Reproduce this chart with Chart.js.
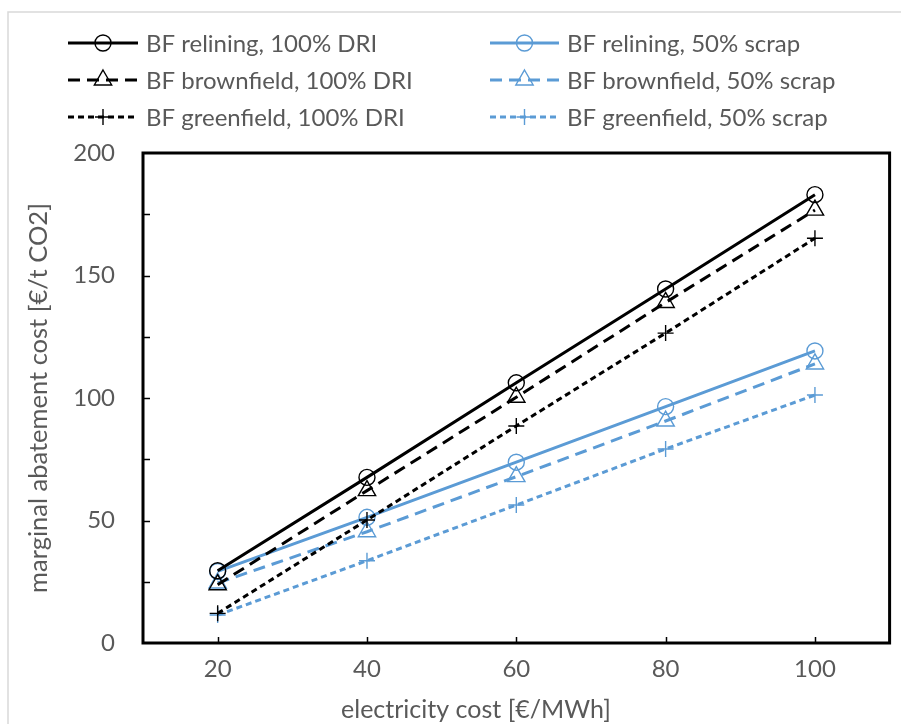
<!DOCTYPE html>
<html>
<head>
<meta charset="utf-8">
<script src="https://cdn.jsdelivr.net/npm/chart.js@4"></script>
<style>
  html, body { margin: 0; padding: 0; background: #fff; }
  #wrap { width: 901px; height: 724px; }
</style>
</head>
<body>
<div id="wrap"><canvas id="chart" width="901" height="724"></canvas></div>
<script>
// colours
const BLACK = '#000000';
const BLUE = '#5b9bd5';
const TEXT = '#595959';
const FONT = "Lato, 'Open Sans', sans-serif";

// data
const electricityCost = ['20', '40', '60', '80', '100'];
const relining100DRI    = [29.5, 67.6, 106.2, 144.5, 183.0];
const brownfield100DRI  = [23.8, 62.2, 100.3, 139.0, 176.7];
const greenfield100DRI  = [12.1, 50.2, 88.6, 126.5, 165.2];
const relining50Scrap   = [29.2, 51.3, 73.8, 96.5, 119.2];
const brownfield50Scrap = [24.5, 45.4, 67.9, 90.6, 113.9];
const greenfield50Scrap = [11.4, 33.6, 56.3, 79.2, 101.2];
const yTicks = [0, 50, 100, 150, 200];

const series = [
  { label: 'BF relining, 100% DRI',     data: relining100DRI,    color: BLACK, dash: [],      point: 'circle' },
  { label: 'BF brownfield, 100% DRI',   data: brownfield100DRI,  color: BLACK, dash: [12, 7], point: 'triangle' },
  { label: 'BF greenfield, 100% DRI',   data: greenfield100DRI,  color: BLACK, dash: [6, 4],  point: 'cross' },
  { label: 'BF relining, 50% scrap',    data: relining50Scrap,   color: BLUE,  dash: [],      point: 'circle' },
  { label: 'BF brownfield, 50% scrap',  data: brownfield50Scrap, color: BLUE,  dash: [12, 7], point: 'triangle' },
  { label: 'BF greenfield, 50% scrap',  data: greenfield50Scrap, color: BLUE,  dash: [6, 4],  point: 'cross' },
];

// marker size per style
const markerRadius = (style) => style === 'triangle' ? 10 : 8;

// ─── frame, inward ticks, legend and x title ───
const decor = {
  id: 'decor',
  beforeDraw(chart) {
    const ctx = chart.ctx;
    ctx.save();
    ctx.strokeStyle = '#d9d9d9';
    ctx.lineWidth = 1.5;
    ctx.strokeRect(8, 12, 1000, 1000);
    ctx.restore();
  },
  afterDraw(chart) {
    const ctx = chart.ctx;
    const a = chart.chartArea;
    const x = chart.scales.x, y = chart.scales.y;
    ctx.save();
    ctx.strokeStyle = BLACK;
    ctx.lineWidth = 1.5;
    // y minor/major ticks pointing in
    for (let v = 25; v < 200; v += 25) {
      const py = Math.round(y.getPixelForValue(v)) + 0.5;
      ctx.beginPath(); ctx.moveTo(a.left, py); ctx.lineTo(a.left + 7, py); ctx.stroke();
    }
    electricityCost.forEach((c, i) => {
      const px = Math.round(x.getPixelForValue(i)) + 0.5;
      ctx.beginPath(); ctx.moveTo(px, a.bottom); ctx.lineTo(px, a.bottom - 6); ctx.stroke();
    });
    ctx.lineWidth = 3;
    ctx.strokeRect(a.left, a.top, a.right - a.left, a.bottom - a.top);

    // legend, two columns
    const cols = [{ x0: 68, x1: 138, tx: 146 }, { x0: 490, x1: 559, tx: 567 }];
    const rows = [43, 80, 117];
    series.forEach((s, i) => {
      const c = cols[Math.floor(i / 3)], ry = rows[i % 3];
      ctx.strokeStyle = s.color;
      ctx.lineWidth = 3;
      ctx.setLineDash(s.dash);
      ctx.beginPath(); ctx.moveTo(c.x0, ry); ctx.lineTo(c.x1, ry); ctx.stroke();
      ctx.setLineDash([]);
      ctx.fillStyle = 'rgba(0,0,0,0)';
      ctx.lineWidth = 1.4;
      Chart.helpers.drawPoint(ctx, { pointStyle: s.point, radius: markerRadius(s.point), rotation: 0, borderWidth: 1.4 },
        (c.x0 + c.x1) / 2, ry);
      ctx.fillStyle = TEXT;
      ctx.font = '24px ' + FONT;
      ctx.textBaseline = 'middle';
      ctx.textAlign = 'left';
      ctx.fillText(s.label, c.tx, ry + 1);
    });

    // x axis title
    ctx.fillStyle = TEXT;
    ctx.font = '25px ' + FONT;
    ctx.textAlign = 'center';
    ctx.textBaseline = 'middle';
    ctx.fillText('electricity cost [€/MWh]', 476, 710);
    ctx.restore();
  }
};

new Chart(document.getElementById('chart'), {
  type: 'line',
  data: {
    labels: electricityCost,
    datasets: series.map((s) => ({
      label: s.label,
      data: s.data,
      borderColor: s.color,
      borderWidth: 3,
      borderDash: s.dash,
      pointStyle: s.point,
      pointRadius: markerRadius(s.point),
      pointBorderWidth: 1.4,
      pointBorderColor: s.color,
      pointBackgroundColor: 'rgba(0,0,0,0)',
      fill: false,
      tension: 0,
    }))
  },
  options: {
    responsive: false,
    animation: false,
    devicePixelRatio: 1,
    layout: { padding: { top: 153, left: 8, right: 11, bottom: 0 } },
    plugins: {
      legend: { display: false },
      tooltip: { enabled: false },
    },
    scales: {
      x: {
        offset: true,
        grid: { display: false, drawTicks: false },
        border: { display: false },
        ticks: { color: TEXT, font: { family: FONT, size: 24 }, padding: 12 },
        afterFit: (s) => { s.height = 81; },
      },
      y: {
        min: 0,
        max: 200,
        grid: { display: false, drawTicks: false },
        border: { display: false },
        ticks: {
          stepSize: 25,
          color: TEXT,
          font: { family: FONT, size: 24 },
          padding: 28,
          callback: (v) => yTicks.includes(v) ? String(v) : '',
        },
        title: {
          display: true,
          text: 'marginal abatement cost [€/t CO2]',
          color: TEXT,
          font: { family: FONT, size: 25.5 },
          padding: { top: 15, bottom: 0 },
        },
        afterFit: (s) => { s.width = 135; },
      }
    }
  },
  plugins: [decor]
});
</script>
</body>
</html>
